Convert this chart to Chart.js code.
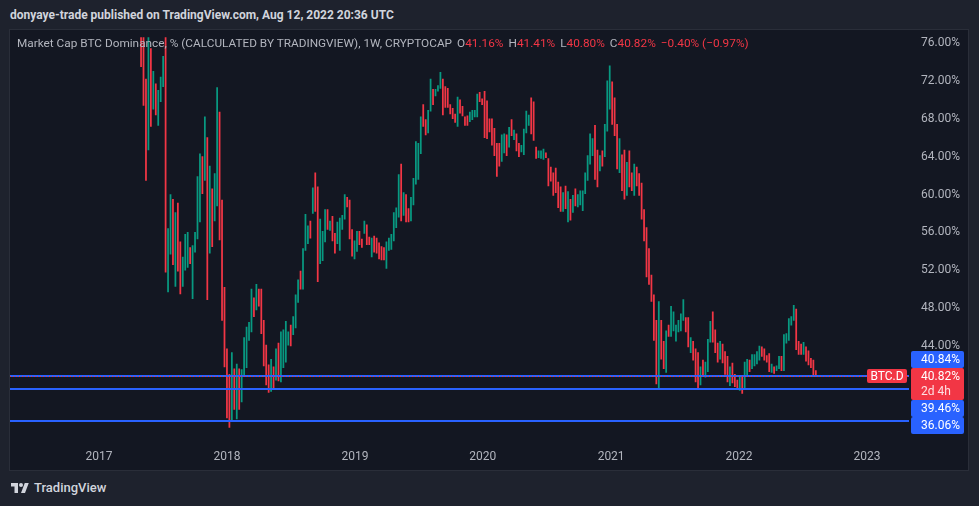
<!DOCTYPE html>
<html>
<head>
<meta charset="utf-8">
<script src="https://cdn.jsdelivr.net/npm/chart.js@4.4.0/dist/chart.umd.min.js"></script>
<style>
  body {
    margin: 0;
    width: 979px;
    height: 506px;
    background: #1e222d;
    overflow: hidden;
    position: relative;
    font-family: Roboto, "Liberation Sans", sans-serif;
  }
  #title {
    position: absolute; left: 10px; top: 8px;
    font-size: 12px; line-height: 14px; font-weight: bold; color: #d1d4dc;
    white-space: pre;
  }
  #panel {
    position: absolute; left: 9px; top: 29px;
    width: 958px; height: 440px;
    border: 1px solid #2a2e39; background: #131722;
  }
  #chart { display: block; }
  #legend {
    position: absolute; left: 7px; top: 6px;
    font-size: 11.8px; line-height: 14px; color: #b2b5be;
    white-space: pre; pointer-events: none;
  }
  #legend .grp { margin-left: 5px; }
  #legend .v { color: #f23645; }
  #brand {
    position: absolute; left: 10px; top: 481px;
    font-size: 13px; line-height: 14px; color: #d1d4dc; font-weight: 500;
    display: flex; align-items: center; gap: 4px;
  }
</style>
</head>
<body>
<div id="title">donyaye-trade published on TradingView.com, Aug 12, 2022 20:36 UTC</div>
<div id="panel">
  <canvas id="chart" width="958" height="440"></canvas>
  <div id="legend"></div>
</div>
<div id="brand">
  <svg width="20" height="14" viewBox="0 0 36 28"><path d="M14 24H7V11H0V4h14v20zM28 24h-8l7.5-20h8L28 24z" fill="#d1d4dc"/><circle cx="20" cy="8" r="4" fill="#d1d4dc"/></svg>
  <span>TradingView</span>
</div>

<script>
// weekly BTC.D candles, first one is the week of 2017-05-01
const firstWeek = Date.UTC(2017, 4, 1);

const highs = [
  80.0, 82.0, 72.2, 80.0, 75.4, 73.0, 71.7, 71.0, 72.4, 74.6,
  80.0, 56.4, 60.0, 59.5, 58.1, 59.1, 55.0, 53.4, 55.8, 56.0,
  54.4, 54.6, 56.0, 61.9, 64.3, 64.0, 68.2, 66.0, 63.0, 60.6,
  62.2, 71.3, 68.7, 59.4, 50.2, 43.7, 41.0, 43.3, 41.6, 42.1,
  41.6, 41.5, 44.9, 46.0, 46.5, 50.0, 49.1, 50.5, 50.0, 50.0,
  46.7, 44.1, 42.0, 42.6, 41.8, 43.7, 44.3, 45.5, 45.7, 46.6,
  45.5, 46.2, 47.1, 49.4, 51.0, 51.9, 54.3, 57.9, 56.7, 57.2,
  60.7, 62.3, 60.8, 57.4, 56.1, 58.4, 58.4, 57.2, 57.7, 55.9,
  57.1, 57.5, 57.8, 60.0, 59.7, 59.4, 56.3, 55.1, 56.1, 56.1,
  55.3, 57.2, 56.8, 55.5, 55.4, 55.6, 55.4, 54.9, 54.5, 54.4,
  55.0, 55.4, 55.8, 58.1, 58.6, 62.1, 63.2, 60.2, 60.0, 58.5,
  59.7, 61.7, 65.6, 65.4, 68.2, 69.5, 67.9, 68.9, 72.2, 71.1,
  71.1, 71.5, 72.9, 72.2, 71.4, 71.2, 69.5, 69.1, 68.5, 70.3,
  70.0, 69.3, 68.2, 68.3, 68.7, 68.9, 68.9, 70.6, 70.8, 70.1,
  70.9, 69.9, 68.0, 68.0, 67.0, 65.4, 65.4, 66.3, 66.4, 66.3,
  67.1, 67.9, 66.8, 66.4, 65.4, 65.2, 66.9, 68.8, 68.4, 70.2,
  69.8, 65.0, 64.6, 64.6, 64.8, 64.4, 63.8, 62.9, 62.3, 62.8,
  61.3, 60.8, 60.2, 60.9, 60.3, 59.5, 59.9, 60.6, 60.0, 60.4,
  60.4, 62.3, 64.1, 66.4, 65.9, 67.3, 64.7, 64.1, 64.6, 67.4,
  72.0, 73.6, 71.9, 70.2, 67.4, 65.9, 64.2, 64.7, 63.4, 64.6,
  62.3, 63.2, 62.9, 62.2, 61.2, 58.4, 56.5, 54.3, 51.5, 49.4,
  46.7, 48.7, 46.7, 44.5, 45.6, 46.2, 48.2, 47.6, 46.2, 46.7,
  47.4, 48.9, 47.0, 47.0, 44.9, 44.5, 43.7, 43.3, 41.8, 42.5,
  42.3, 44.7, 46.6, 47.6, 45.7, 44.3, 44.5, 44.2, 43.4, 42.9,
  41.8, 42.2, 41.0, 40.4, 40.7, 40.9, 42.3, 42.6, 42.5, 43.1,
  43.1, 43.4, 44.0, 43.9, 43.7, 43.0, 43.2, 42.1, 41.8, 41.9,
  42.9, 42.9, 45.2, 45.3, 46.9, 47.1, 48.3, 47.9, 44.5, 44.2,
  44.4, 43.9, 43.5, 42.7, 42.5, 41.41
];

const lows = [
  73.5, 69.4, 61.5, 64.7, 67.2, 69.0, 68.4, 67.3, 69.8, 71.4,
  51.8, 49.7, 53.7, 52.6, 50.3, 51.9, 49.5, 50.3, 52.0, 52.3,
  52.7, 49.0, 53.9, 55.3, 57.1, 60.1, 61.5, 48.9, 53.8, 54.5,
  57.2, 58.8, 55.2, 46.7, 41.8, 36.4, 35.4, 36.2, 37.3, 36.3,
  37.3, 38.1, 40.8, 41.7, 44.6, 45.5, 47.1, 47.8, 48.2, 45.3,
  41.9, 39.9, 39.1, 39.2, 39.6, 40.4, 40.3, 40.2, 41.7, 42.3,
  44.1, 44.0, 45.2, 45.9, 48.6, 50.0, 50.0, 54.1, 54.8, 55.4,
  58.0, 58.2, 50.8, 52.7, 53.0, 55.0, 56.3, 56.2, 55.1, 53.8,
  54.8, 54.1, 56.3, 57.4, 58.7, 55.3, 53.5, 53.2, 54.0, 54.7,
  54.4, 55.9, 54.7, 54.7, 53.4, 53.9, 53.8, 53.2, 53.1, 53.1,
  52.2, 54.1, 54.2, 55.1, 56.5, 57.6, 57.2, 57.8, 57.1, 57.1,
  57.2, 58.9, 61.1, 61.6, 64.3, 67.2, 66.3, 66.5, 68.8, 69.5,
  70.4, 70.9, 71.2, 68.4, 69.2, 69.2, 68.5, 68.0, 67.6, 67.2,
  68.6, 68.3, 67.3, 67.3, 67.7, 67.9, 68.2, 68.2, 69.8, 69.5,
  66.0, 65.9, 66.6, 65.2, 64.1, 61.9, 63.0, 63.5, 64.4, 64.1,
  65.0, 66.2, 65.8, 64.6, 64.0, 64.5, 64.2, 66.5, 67.3, 66.4,
  65.7, 63.8, 63.9, 63.8, 63.7, 63.9, 60.9, 61.4, 59.9, 60.2,
  58.6, 58.2, 58.2, 58.5, 57.1, 57.3, 58.1, 58.8, 58.7, 58.9,
  58.3, 60.1, 61.5, 63.2, 64.1, 61.6, 60.8, 62.5, 63.0, 64.0,
  66.7, 69.0, 67.4, 66.2, 62.7, 62.3, 60.4, 59.5, 59.9, 60.8,
  60.4, 59.9, 60.9, 59.9, 57.4, 55.1, 51.3, 50.5, 48.7, 44.6,
  40.0, 39.6, 42.6, 41.6, 41.2, 45.0, 45.0, 45.6, 44.5, 45.5,
  45.6, 46.7, 45.5, 43.9, 43.3, 42.5, 40.2, 39.5, 39.9, 40.9,
  40.7, 41.3, 44.4, 44.4, 43.3, 42.3, 42.6, 42.2, 41.0, 40.2,
  39.8, 40.1, 39.7, 39.6, 39.3, 39.0, 39.4, 40.8, 41.3, 41.6,
  41.9, 42.1, 42.5, 42.9, 42.5, 42.3, 41.3, 41.2, 41.1, 41.4,
  41.6, 41.4, 41.4, 44.3, 44.6, 46.2, 46.7, 43.6, 43.1, 43.1,
  43.1, 42.4, 42.0, 41.7, 40.9, 40.80
];

// g = closed up, r = closed down
const dirs = (
  "rrrgrgrggg" + "rggrgrrggg" + "rggggrgrgr" + "ggrrrrrgrg" + "rgggggrgrr" +
  "rrrgrgrggg" + "grgggrgggr" + "grrgggrgrr" + "ggggrrrggr" + "rgrrgrrrrr" +
  "ggggggrgrr" + "gggggrrggr" + "gggrrrrrrg" + "rrrrggggrr" + "rrrrrrrggr" +
  "grgrrggggr" + "rrgggrrrrr" + "rrgrgrgrgg" + "gggggrrgrg" + "ggrrrgrrgr" +
  "rgrrrrrrrr" + "rgrrgrgggg" + "ggrrgrrrgr" + "gggrrrgrrr" + "grrrgrggrg" +
  "gggrrrrgrg" + "grgggggrrr" + "grrrrr"
).split("");

const yearTicks = [2017, 2018, 2019, 2020, 2021, 2022, 2023];
const priceTicks = [44, 48, 52, 56, 60, 64, 68, 72, 76];

// horizontal levels drawn on the chart
const blueLevels = [40.84, 39.46, 36.06];
const lastOpen = 41.16;
const lastClose = 40.82;
const countdown = "2d 4h";
const symbol = "BTC.D";

const GREEN = "#089981";
const RED = "#f23645";
const BLUE = "#2962ff";
const TEXT = "#b2b5be";
const FONT = "Roboto, 'Liberation Sans', sans-serif";

const DAY = 86400000;
const weekTimes = highs.map((_, i) => firstWeek + i * 7 * DAY);

// legend line
const last = highs.length - 1;
document.getElementById("legend").innerHTML =
  "Market Cap BTC Dominance, % (CALCULATED BY TRADINGVIEW), 1W, CRYPTOCAP" +
  `<span class="grp">O<span class="v">${lastOpen.toFixed(2)}%</span></span>` +
  `<span class="grp">H<span class="v">${highs[last].toFixed(2)}%</span></span>` +
  `<span class="grp">L<span class="v">${lows[last].toFixed(2)}%</span></span>` +
  `<span class="grp">C<span class="v">${lastClose.toFixed(2)}%</span></span>` +
  `<span class="grp v">\u22120.40% (\u22120.97%)</span>`;

function box(ctx, x, y, w, h, color) {
  ctx.fillStyle = color;
  ctx.beginPath();
  ctx.roundRect(x, y, w, h, 2);
  ctx.fill();
}

const levelsPlugin = {
  id: "levels",
  afterDatasetsDraw(chart) {
    const { ctx, chartArea: a, scales: { y } } = chart;
    ctx.save();
    ctx.fillStyle = BLUE;
    blueLevels.forEach(v => {
      const py = Math.round(y.getPixelForValue(v));
      ctx.fillRect(a.left, py - 1, a.right - a.left, 2);
    });
    const pp = Math.round(y.getPixelForValue(lastClose)) + 0.5;
    ctx.strokeStyle = RED;
    ctx.lineWidth = 1;
    ctx.setLineDash([1, 2]);
    ctx.beginPath();
    ctx.moveTo(a.left, pp);
    ctx.lineTo(a.right, pp);
    ctx.stroke();
    ctx.setLineDash([]);

    // symbol tag left of the price scale
    ctx.font = "12px " + FONT;
    ctx.textBaseline = "middle";
    ctx.textAlign = "center";
    box(ctx, a.right - 42, pp - 7.5, 40, 14, RED);
    ctx.fillStyle = "#ffffff";
    ctx.fillText(symbol, a.right - 22, pp);
    ctx.restore();
  },
  afterDraw(chart) {
    const { ctx, chartArea: a, scales: { y } } = chart;
    ctx.save();
    ctx.font = "12px " + FONT;
    ctx.textBaseline = "middle";
    ctx.textAlign = "left";
    const bx = a.right + 2, bw = 53, bh = 17;
    const pp = Math.round(y.getPixelForValue(lastClose));
    const redTop = pp - 8, redBot = redTop + 32;

    const above = blueLevels.filter(v => v > lastClose).sort((p, q) => p - q);
    const below = blueLevels.filter(v => v <= lastClose).sort((p, q) => q - p);
    let limit = redTop;
    above.forEach(v => {
      const top = Math.min(y.getPixelForValue(v) - bh / 2, limit - bh);
      box(ctx, bx, top, bw, bh, BLUE);
      ctx.fillStyle = "#ffffff";
      ctx.fillText(v.toFixed(2) + "%", bx + 10, top + bh / 2 + 0.5);
      limit = top;
    });
    limit = redBot;
    below.forEach(v => {
      const top = Math.max(y.getPixelForValue(v) - bh / 2, limit);
      box(ctx, bx, top, bw, bh, BLUE);
      ctx.fillStyle = "#ffffff";
      ctx.fillText(v.toFixed(2) + "%", bx + 10, top + bh / 2 + 0.5);
      limit = top + bh;
    });

    box(ctx, bx, redTop, bw, 32, RED);
    ctx.fillStyle = "#ffffff";
    ctx.fillText(lastClose.toFixed(2) + "%", bx + 10, redTop + 8.5);
    ctx.fillStyle = "rgba(255,255,255,0.85)";
    ctx.fillText(countdown, bx + 10, redTop + 24);
    ctx.restore();
  }
};

const xMin = Date.UTC(2017, 0, 1) - 253.9 * DAY;
const xMax = Date.UTC(2017, 0, 1) + 2310.8 * DAY;

const chart = new Chart(document.getElementById("chart"), {
  type: "bar",
  data: {
    datasets: [{
      data: weekTimes.map((t, i) => ({ x: t, y: [lows[i], highs[i]] })),
      backgroundColor: dirs.map(d => d === "g" ? GREEN : RED),
      barThickness: 1.1,
      borderWidth: 0,
      grouped: false,
      clip: 0
    }]
  },
  options: {
    responsive: false,
    animation: false,
    layout: { padding: 0 },
    plugins: { legend: { display: false }, tooltip: { enabled: false } },
    scales: {
      x: {
        type: "linear",
        offset: false,
        min: xMin,
        max: xMax,
        grid: { display: false, drawTicks: false },
        border: { display: false },
        afterBuildTicks: s => { s.ticks = yearTicks.map(yr => ({ value: Date.UTC(yr, 0, 1) })); },
        afterFit: s => { s.height = 29; },
        ticks: {
          color: TEXT,
          font: { family: FONT, size: 12 },
          padding: 9,
          maxRotation: 0,
          autoSkip: false,
          callback: v => new Date(v).getUTCFullYear()
        }
      },
      y: {
        position: "right",
        min: 33.86,
        max: 77.27,
        grid: { display: true, drawOnChartArea: false, drawTicks: true, tickLength: 12, color: "rgba(0,0,0,0)" },
        border: { display: false },
        afterBuildTicks: s => { s.ticks = priceTicks.map(v => ({ value: v })); },
        afterFit: s => { s.width = 59; },
        ticks: {
          color: TEXT,
          font: { family: FONT, size: 12 },
          padding: 0,
          crossAlign: "near",
          callback: v => v.toFixed(2) + "%"
        }
      }
    }
  },
  plugins: [levelsPlugin]
});

// pin the price scale so that 76 % and 44 % land on the same rows as in the snapshot
const area = chart.chartArea;
const row76 = 13, row44 = 316;
const pxPerPct = (row44 - row76) / (76 - 44);
chart.options.scales.y.max = 76 + (row76 - area.top) / pxPerPct;
chart.options.scales.y.min = 44 - (area.bottom - row44) / pxPerPct;
chart.update();
</script>
</body>
</html>
